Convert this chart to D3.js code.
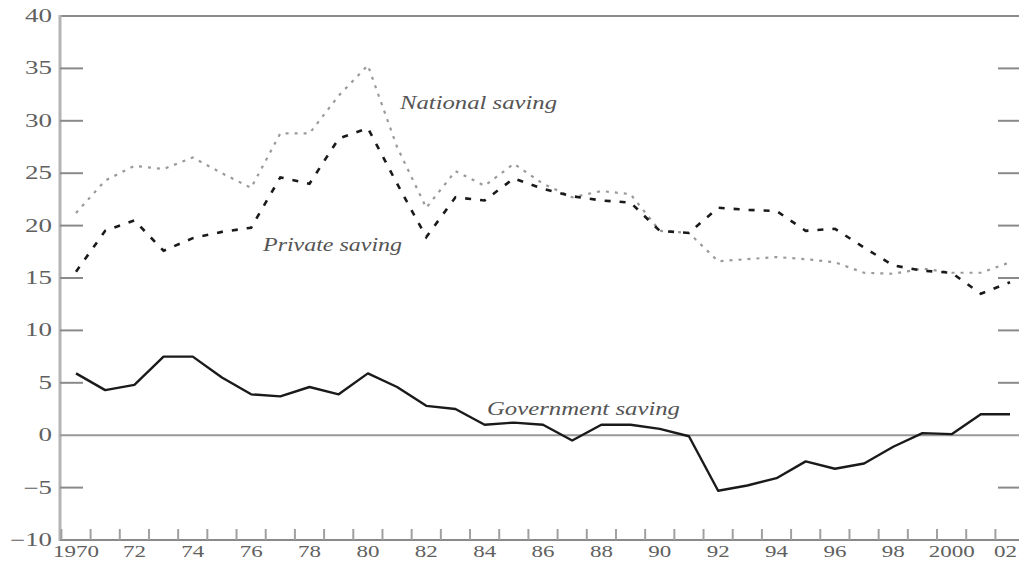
<!DOCTYPE html>
<html>
<head>
<meta charset="utf-8">
<script src="https://cdn.jsdelivr.net/npm/d3@7"></script>
<style>
  html, body { margin: 0; padding: 0; background: #fff; }
  svg { display: block; }
  text { font-family: "Liberation Serif", "DejaVu Serif", serif; }
</style>
</head>
<body>
<svg id="chart" width="1019" height="563"></svg>
<script>
const years = d3.range(1970, 2003);
const governmentSaving = [5.9, 4.3, 4.8, 7.5, 7.5, 5.5, 3.9, 3.7, 4.6, 3.9, 5.9, 4.6, 2.8, 2.5, 1.0, 1.2, 1.0, -0.5, 1.0, 1.0, 0.6, -0.1, -5.3, -4.8, -4.1, -2.5, -3.2, -2.7, -1.1, 0.2, 0.1, 2.0, 2.0];
const privateSaving = [15.6, 19.5, 20.5, 17.6, 18.8, 19.4, 19.8, 24.6, 24.0, 28.3, 29.3, 24.0, 18.9, 22.7, 22.4, 24.5, 23.5, 22.8, 22.4, 22.2, 19.5, 19.3, 21.7, 21.5, 21.4, 19.5, 19.7, 17.9, 16.2, 15.7, 15.5, 13.5, 14.6];
const nationalSaving = [21.2, 24.3, 25.7, 25.4, 26.5, 25.0, 23.6, 28.8, 28.8, 32.4, 35.3, 27.5, 21.7, 25.2, 23.8, 25.9, 24.0, 22.7, 23.3, 23.0, 19.5, 19.3, 16.6, 16.8, 17.0, 16.8, 16.5, 15.5, 15.4, 15.9, 15.5, 15.5, 16.5];
const yTicks = [-10, -5, 0, 5, 10, 15, 20, 25, 30, 35, 40];
const yTickLabels = ["\u221210", "\u22125", "0", "5", "10", "15", "20", "25", "30", "35", "40"];
const xLabelYears = d3.range(1970, 2003, 2);
const xLabels = ["1970", "72", "74", "76", "78", "80", "82", "84", "86", "88", "90", "92", "94", "96", "98", "2000", "02"];
const seriesNames = ["National saving", "Private saving", "Government saving"];

(function () {
const svg = d3.select("#chart");
const mLeft = 60, mRight = 1019, mTop = 16, mBottom = 540;
const x = d3.scaleLinear().domain([1970, 2002]).range([76, 1010]);
const y = d3.scaleLinear().domain([-10, 40]).range([mBottom, mTop]);
const axisGray = "#8a8a8a";

svg.append("line").attr("x1", mLeft).attr("x2", mRight).attr("y1", mTop).attr("y2", mTop)
  .attr("stroke", axisGray).attr("stroke-width", 2);
svg.append("line").attr("x1", mLeft).attr("x2", mLeft).attr("y1", mTop - 1).attr("y2", mBottom + 1)
  .attr("stroke", "#b4b4b4").attr("stroke-width", 3);
svg.append("line").attr("x1", mLeft).attr("x2", mRight).attr("y1", mBottom).attr("y2", mBottom)
  .attr("stroke", axisGray).attr("stroke-width", 2);
svg.append("line").attr("x1", mLeft).attr("x2", mRight).attr("y1", y(0)).attr("y2", y(0))
  .attr("stroke", "#999").attr("stroke-width", 2);

const yt = yTicks.filter(v => v !== 40 && v !== 0 && v !== -10);
svg.selectAll(".ytl").data(yt).join("line")
  .attr("x1", mLeft).attr("x2", mLeft + 23).attr("y1", d => y(d)).attr("y2", d => y(d))
  .attr("stroke", axisGray).attr("stroke-width", 2);
svg.selectAll(".ytr").data(yt).join("line")
  .attr("x1", mRight - 21).attr("x2", mRight).attr("y1", d => y(d)).attr("y2", d => y(d))
  .attr("stroke", axisGray).attr("stroke-width", 2);

const labelWidth = s => s.startsWith("\u2212") ? 15 + (s.length - 1) * 13.5 : s.length * 13.5;
svg.selectAll(".ylab").data(yTicks).join("text")
  .attr("x", (d, i) => 52 - labelWidth(yTickLabels[i]))
  .attr("y", d => y(d) + 6)
  .attr("textLength", (d, i) => labelWidth(yTickLabels[i]))
  .attr("lengthAdjust", "spacingAndGlyphs")
  .attr("font-size", 18).attr("fill", "#606060")
  .text((d, i) => yTickLabels[i]);

const xTickVals = d3.range(1969.5, 2002, 1);
svg.selectAll(".xt").data(xTickVals).join("line")
  .attr("x1", d => x(d)).attr("x2", d => x(d)).attr("y1", mBottom - 11).attr("y2", mBottom)
  .attr("stroke", "#a0a0a0").attr("stroke-width", 2);

svg.selectAll(".xlab").data(xLabelYears).join("text")
  .attr("x", (d, i) => i === xLabels.length - 1 ? 1017 : x(d)).attr("y", 557)
  .attr("text-anchor", (d, i) => i === xLabels.length - 1 ? "end" : "middle")
  .attr("textLength", (d, i) => xLabels[i].length * 11.5)
  .attr("lengthAdjust", "spacingAndGlyphs")
  .attr("font-size", 17).attr("fill", "#606060")
  .text((d, i) => xLabels[i]);

const line = d3.line().x((d, i) => x(years[i])).y(d => y(d));
svg.append("path").datum(nationalSaving).attr("d", line)
  .attr("fill", "none").attr("stroke", "#9a9a9a").attr("stroke-width", 2.2)
  .attr("stroke-dasharray", "3,6");
svg.append("path").datum(privateSaving).attr("d", line)
  .attr("fill", "none").attr("stroke", "#1a1a1a").attr("stroke-width", 2.6)
  .attr("stroke-dasharray", "6,9");
svg.append("path").datum(governmentSaving).attr("d", line)
  .attr("fill", "none").attr("stroke", "#1a1a1a").attr("stroke-width", 2.4)
  .attr("stroke-linejoin", "round");

const labelPos = [
  {x: 400, y: 109, w: 157},
  {x: 263, y: 251, w: 139},
  {x: 487, y: 415, w: 193}
];
svg.selectAll(".slab").data(seriesNames).join("text")
  .attr("x", (d, i) => labelPos[i].x).attr("y", (d, i) => labelPos[i].y)
  .attr("textLength", (d, i) => labelPos[i].w)
  .attr("lengthAdjust", "spacingAndGlyphs")
  .attr("font-size", 19).attr("font-style", "italic").attr("fill", "#555")
  .text(d => d);
})();
</script>
</body>
</html>
